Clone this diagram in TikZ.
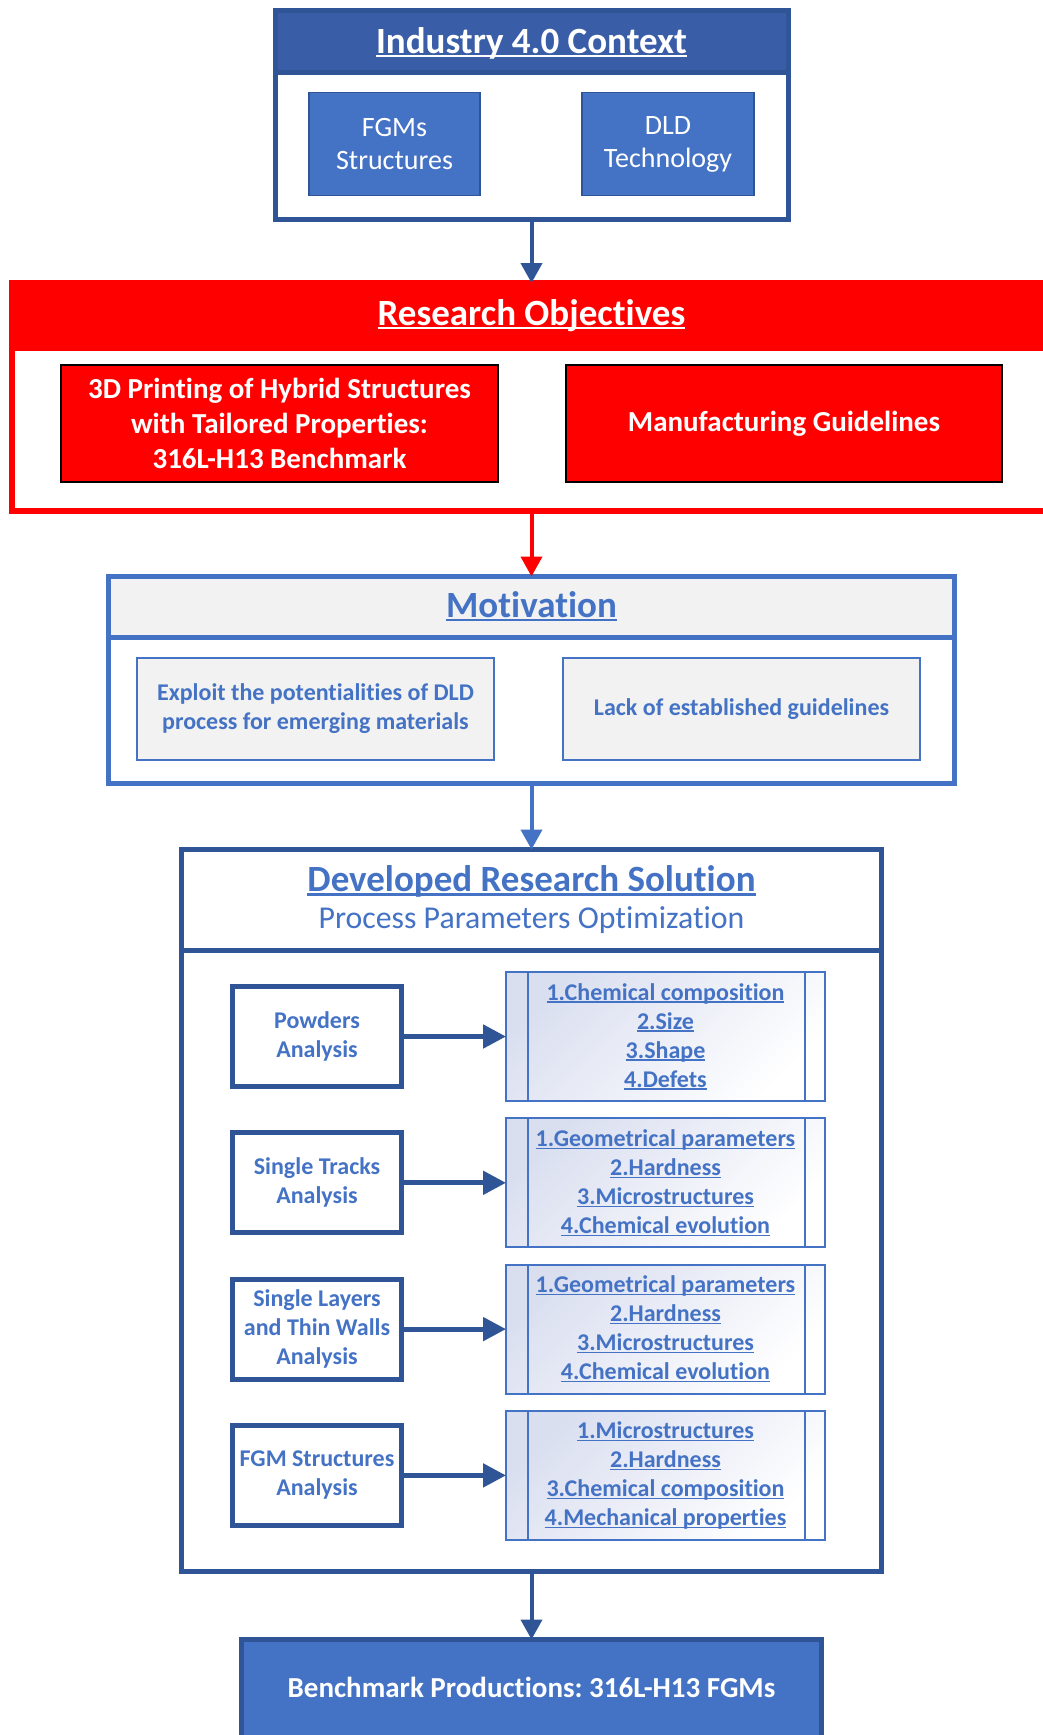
\documentclass[tikz,border=0pt]{standalone}
\usepackage{fontspec}
\setmainfont{Carlito}[Ligatures=NoCommon]
\usetikzlibrary{arrows.meta}

\definecolor{dkblue}{HTML}{2F5597}
\definecolor{hdblue}{HTML}{3A5DA8}
\definecolor{midblue}{HTML}{4472C4}
\definecolor{paleGrey}{HTML}{F2F2F2}
\definecolor{lavender}{HTML}{DADFF0}
\definecolor{brightRed}{HTML}{FF0000}

% underline at a fixed depth below the baseline, as word processors draw it
\newcommand{\ulx}[1]{\leavevmode\setbox0=\hbox{#1}\rlap{\rule[-0.11em]{\wd0}{0.06em}}\box0}

\tikzset{
  base/.style={rectangle, inner sep=0pt, outer sep=0pt, align=center},
  titletxt/.style={inner sep=0pt, anchor=base, font=\fontsize{37}{44}\selectfont\bfseries},
  subtxt/.style={inner sep=0pt, anchor=base, font=\fontsize{31.8}{38}\selectfont},
  smallbold/.style={font=\fontsize{24}{29}\selectfont\bfseries},
  redtxt/.style={font=\fontsize{29}{35}\selectfont\bfseries},
  panel/.style={base, line width=5pt, fill=white},
  redbox/.style={base, draw=black, line width=2pt, fill=brightRed, text=white, redtxt,
    minimum width=437pt, minimum height=117pt},
  motbox/.style={base, draw=midblue, line width=2pt, fill=paleGrey, text=midblue, smallbold,
    minimum width=357pt, minimum height=102pt},
  stagebox/.style={base, draw=dkblue, line width=5pt, fill=white, text=midblue, smallbold,
    minimum width=169pt, minimum height=100pt},
  listbox/.style={base, draw=midblue, line width=2pt, top color=lavender, bottom color=white,
    shading angle=45, text=midblue, smallbold, minimum width=319pt, minimum height=129pt},
  mainarrow/.style={line width=4pt, -{Triangle[length=20pt,width=21pt]}},
  stagearrow/.style={dkblue, line width=5pt, -{Triangle[length=23pt,width=23pt]}},
}

\begin{document}
\frenchspacing
\begin{tikzpicture}[x=1pt,y=-1pt]
\useasboundingbox (0,0) rectangle (1043,1735);
\clip (0,0) rectangle (1043,1735);

% ---- Industry 4.0 context ----
\node[panel, draw=dkblue, minimum width=513pt, minimum height=209pt] (ind) at (531.5,114.5) {};
\node[base, draw=dkblue, line width=5pt, fill=hdblue, minimum width=513pt, minimum height=62pt] (indh) at (531.5,41) {};
\node[titletxt, text=white] (indt) at (531.5,53) {\ulx{Industry 4.0 Context}};
\node[base, draw=dkblue, line width=1.5pt, fill=midblue, text=white, font=\fontsize{28}{33}\selectfont,
  minimum width=171pt, minimum height=103pt] (fgm) at (394.5,144) {FGMs\\Structures};
\node[base, draw=dkblue, line width=1.5pt, fill=midblue, text=white, font=\fontsize{28}{33}\selectfont,
  minimum width=172pt, minimum height=103pt] (dld) at (668,144) {DLD\\Technology};

% ---- Research objectives ----
\node[base, draw=brightRed, line width=6pt, fill=white, minimum width=1048pt, minimum height=228pt] (res) at (536,397) {};
\node[base, draw=brightRed, line width=6pt, fill=brightRed, minimum width=1048pt, minimum height=65pt] (resh) at (536,315.5) {};
\node[titletxt, text=white] (rest) at (531.5,325) {\ulx{Research Objectives}};
\node[redbox] (r3d) at (279.5,423.5) {3D Printing of Hybrid Structures\\with Tailored Properties:\\316L-H13 Benchmark};
\node[redbox, minimum width=436pt] (rman) at (784,423.5) {Manufacturing Guidelines};

% ---- Motivation ----
\node[panel, draw=midblue, minimum width=846pt, minimum height=207pt] (mot) at (531.5,680) {};
\node[base, draw=midblue, line width=5pt, fill=paleGrey, minimum width=846pt, minimum height=60.5pt] (moth) at (531.5,606.75) {};
\node[titletxt, text=midblue] (mott) at (531.5,617) {\ulx{Motivation}};
\node[motbox] (mex) at (315.5,709) {Exploit the potentialities of DLD\\process for emerging materials};
\node[motbox] (mlack) at (741.5,709) {Lack of established guidelines};

% ---- Developed research solution ----
\node[panel, draw=dkblue, minimum width=700pt, minimum height=722pt] (sol) at (531.5,1210.5) {};
\node[panel, draw=dkblue, minimum width=700pt, minimum height=100.5pt] (solh) at (531.5,899.75) {};
\node[titletxt, text=midblue] (solt) at (531.5,891.5) {\ulx{Developed Research Solution}};
\node[subtxt, text=midblue] (sols) at (531.5,928) {Process Parameters Optimization};

\node[stagebox] (a1) at (317,1036.5) {Powders\\Analysis};
\node[stagebox] (a2) at (317,1182.8) {Single Tracks\\Analysis};
\node[stagebox] (a3) at (317,1329.1) {Single Layers\\and Thin Walls\\Analysis};
\node[stagebox] (a4) at (317,1475.4) {FGM Structures\\Analysis};

\node[listbox] (p1) at (665.5,1036.5) {\ulx{1.Chemical composition}\\\ulx{2.Size}\\\ulx{3.Shape}\\\ulx{4.Defets}};
\node[listbox] (p2) at (665.5,1182.8) {\ulx{1.Geometrical parameters}\\\ulx{2.Hardness}\\\ulx{3.Microstructures}\\\ulx{4.Chemical evolution}};
\node[listbox] (p3) at (665.5,1329.1) {\ulx{1.Geometrical parameters}\\\ulx{2.Hardness}\\\ulx{3.Microstructures}\\\ulx{4.Chemical evolution}};
\node[listbox] (p4) at (665.5,1475.4) {\ulx{1.Microstructures}\\\ulx{2.Hardness}\\\ulx{3.Chemical composition}\\\ulx{4.Mechanical properties}};

% side bars of the list boxes
\foreach \p in {p1,p2,p3,p4}{
  \draw[midblue, line width=2pt] ([xshift=22pt]\p.north west) -- ([xshift=22pt]\p.south west);
  \draw[midblue, line width=2pt] ([xshift=-20pt]\p.north east) -- ([xshift=-20pt]\p.south east);
}

\foreach \i in {1,2,3,4}{
  \draw[stagearrow] (a\i.east) -- (p\i.west);
}

% ---- Benchmark ----
\node[base, draw=dkblue, line width=5pt, fill=midblue, minimum width=580pt, minimum height=121pt] (bench) at (531.5,1700) {};
\node[inner sep=0pt, anchor=base, text=white, redtxt] (bencht) at (531.5,1697) {Benchmark Productions: 316L-H13 FGMs};

% ---- flow between the sections ----
\draw[mainarrow, dkblue] (ind.south) -- (ind.south |- res.north);
\draw[mainarrow, brightRed] (mot.north |- res.south) -- (mot.north);
\draw[mainarrow, midblue] (mot.south) -- (sol.north);
\draw[mainarrow, dkblue] (sol.south) -- (bench.north);
\end{tikzpicture}
\end{document}
